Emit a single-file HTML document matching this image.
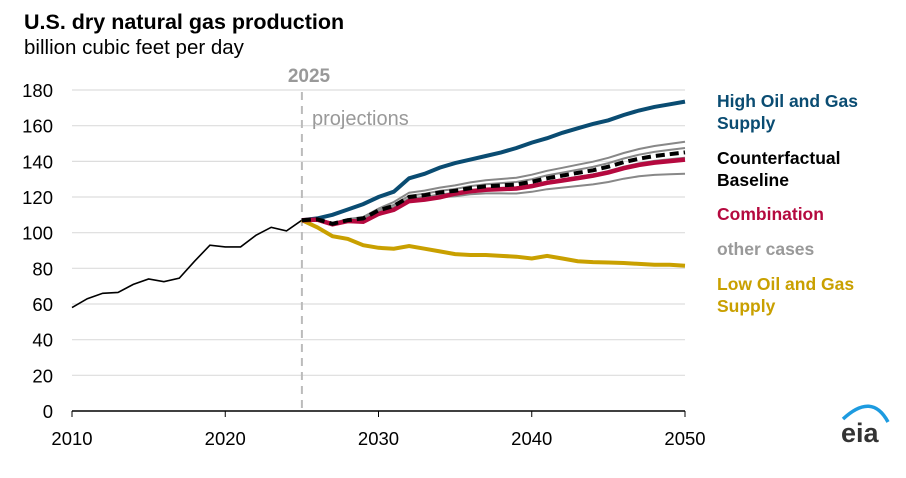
<!DOCTYPE html>
<html><head><meta charset="utf-8"><style>
body{margin:0;background:#fff;width:906px;height:478px;overflow:hidden}
svg{display:block;font-family:"Liberation Sans",Arial,sans-serif}
</style></head><body>
<svg id="s" width="906" height="478" xmlns="http://www.w3.org/2000/svg">
<text x="24" y="29" font-size="21.5" font-weight="bold" fill="#000">U.S. dry natural gas production</text>
<text x="24" y="54" font-size="20.5" fill="#000">billion cubic feet per day</text>
<g id="grid"></g>
<line x1="301.9" y1="92" x2="301.9" y2="411" stroke="#bbb" stroke-width="2" stroke-dasharray="8,6"/>
<text x="309" y="82" font-size="19" font-weight="bold" fill="#999" text-anchor="middle">2025</text>
<text x="312" y="125" font-size="20" fill="#999">projections</text>
<g id="lines"></g>
<g font-size="17.5" font-weight="bold">
<text x="717" y="107" fill="#0a4c72">High Oil and Gas</text>
<text x="717" y="129" fill="#0a4c72">Supply</text>
<text x="717" y="164" fill="#000">Counterfactual</text>
<text x="717" y="186" fill="#000">Baseline</text>
<text x="717" y="220" fill="#b5093f">Combination</text>
<text x="717" y="255" fill="#999">other cases</text>
<text x="717" y="290" fill="#c9a000">Low Oil and Gas</text>
<text x="717" y="312" fill="#c9a000">Supply</text>
</g>
<path d="M843 419 Q872 392 888 422" fill="none" stroke="#1d9be0" stroke-width="3.5"/>
<text x="841" y="442" font-size="27" font-weight="bold" fill="#333">eia</text>
</svg>
<script>
var X=function(y){return 72+15.325*(y-2010)},Y=function(v){return 411-1.7833*v};
var g=document.getElementById('grid'),h='';
for(var v=0;v<=180;v+=20){h+='<line x1="72" x2="685" y1="'+Y(v)+'" y2="'+Y(v)+'" stroke="'+(v==0?'#000':'#ddd')+'" stroke-width="'+(v==0?1.5:1.2)+'"/>';
h+='<text x="53" y="'+(Y(v)+7)+'" font-size="18.5" text-anchor="end">'+v+'</text>';}
for(var y=2010;y<=2050;y+=10){h+='<line x1="'+X(y)+'" x2="'+X(y)+'" y1="411" y2="417" stroke="#000"/><text x="'+X(y)+'" y="445" font-size="18.5" text-anchor="middle">'+y+'</text>';}
g.innerHTML=h;
function P(start,a){return a.map(function(v,i){return X(start+i).toFixed(1)+','+Y(v).toFixed(1)}).join(' ')}
var hist=[58,63,66,66.5,71,74,72.5,74.5,84,93,92,92,98.5,103,101,107];
var high=[107,108,110,113,116,120,123,130.5,133,136.5,139,141,143,145,147.5,150.5,153,156,158.5,161,163,166,168.5,170.5,172,173.5];
var base=[107,107.5,105,107,108,112.5,115,120,121,122.5,123.5,125,126,126.5,127,128.5,130.5,132,133.5,135,137,139.5,141.5,143,144,145];
var comb=base.map(function(v,i){return v-(i/25)*4-(i>3&&i<10?1.2:0)});
var low=[107,103,98,96.5,93,91.5,91,92.5,91,89.5,88,87.5,87.5,87,86.5,85.5,87,85.5,84,83.5,83.3,83,82.5,82,82,81.5];
var up=base.map(function(v,i){return v+(i/25)*5+(i>5?1:0)});
var up2=base.map(function(v,i){return v+(i/25)*2.5});
var lo=base.map(function(v,i){return v-Math.pow(i/25,1.5)*12});
var lo2=base.map(function(v,i){return v-(i/25)*3});
var L='';
L+='<polyline points="'+P(2010,hist)+'" fill="none" stroke="#000" stroke-width="1.6"/>';
[up,up2,lo,lo2].forEach(function(a){L+='<polyline points="'+P(2025,a)+'" fill="none" stroke="#888" stroke-width="2"/>'});
L+='<polyline points="'+P(2025,low)+'" fill="none" stroke="#c9a000" stroke-width="4"/>';
L+='<polyline points="'+P(2025,high)+'" fill="none" stroke="#0a4c72" stroke-width="4"/>';
L+='<polyline points="'+P(2025,comb)+'" fill="none" stroke="#b5093f" stroke-width="4.5"/>';
L+='<polyline points="'+P(2025,base)+'" fill="none" stroke="#000" stroke-width="4" stroke-dasharray="9,5"/>';
document.getElementById('lines').innerHTML=L;
</script>
</body></html>
